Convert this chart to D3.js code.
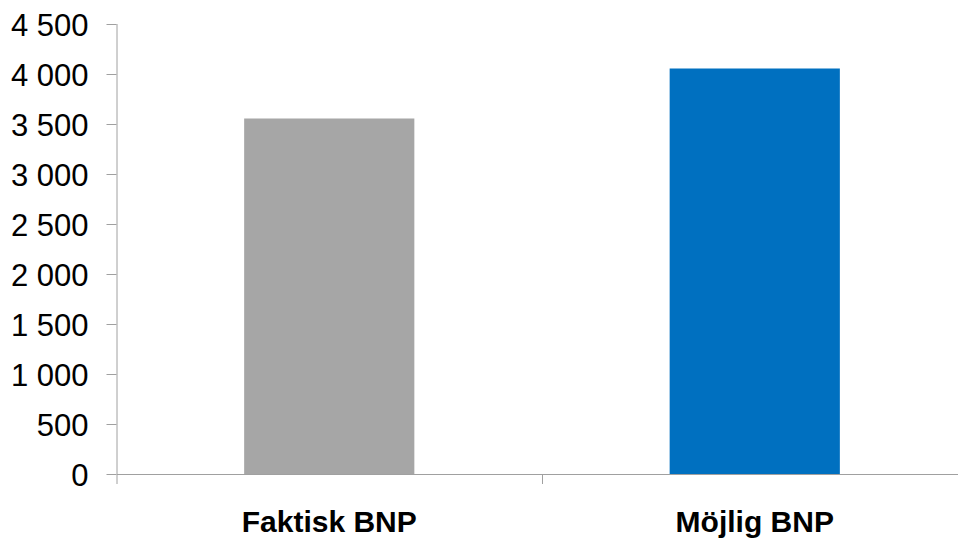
<!DOCTYPE html>
<html><head><meta charset="utf-8">
<script src="https://cdn.jsdelivr.net/npm/d3@7"></script>
<style>body{margin:0;background:#fff}svg{display:block}</style>
</head><body>
<script>
const categories = ["Faktisk BNP", "Möjlig BNP"];
const values = [3555, 4055];
const colors = ["#a6a6a6", "#0070c0"];
const yTicks = [0, 500, 1000, 1500, 2000, 2500, 3000, 3500, 4000, 4500];

const W = 958, H = 541;
const x0 = 116.5, x1 = 967.5, yTop = 24, yBot = 474;
const svg = d3.select("body").append("svg").attr("width", W).attr("height", H);

const y = d3.scaleLinear().domain([0, 4500]).range([yBot, yTop]);
const x = d3.scaleBand().domain(categories).range([x0, x1]).paddingInner(0.6).paddingOuter(0.3);
const xb = d3.scaleLinear().domain([0, categories.length]).range([x0, x1]);

const fmt = v => d3.format(",")(v).replace(/,/g, " ");

// bars
svg.selectAll("rect.bar").data(categories).join("rect")
  .attr("x", d => x(d)).attr("width", x.bandwidth())
  .attr("y", (d, i) => y(values[i])).attr("height", (d, i) => yBot - y(values[i]))
  .attr("fill", (d, i) => colors[i]);

// y axis
const ya = svg.append("g").attr("transform", `translate(${x0},0)`)
  .call(d3.axisLeft(y).tickValues(yTicks).tickFormat(fmt).tickSize(10).tickPadding(18).tickSizeOuter(0));
ya.select(".domain").attr("stroke", "#a0a0a0").attr("d", `M0.5,${yTop}V${yBot}`);
ya.selectAll(".tick line").attr("stroke", "#a0a0a0");
ya.selectAll(".tick text").attr("font-family", "Liberation Sans, Arial, sans-serif").attr("font-size", 31).attr("fill", "#000").attr("dy", "0.36em");

// x axis
const xa = svg.append("g").attr("transform", `translate(0,${yBot})`)
  .call(d3.axisBottom(xb).tickValues(d3.range(categories.length + 1)).tickFormat("").tickSize(10).tickSizeOuter(0));
xa.select(".domain").attr("stroke", "#a0a0a0");
xa.selectAll(".tick line").attr("stroke", "#a0a0a0");

// category labels
svg.selectAll("text.cat").data(categories).join("text").attr("class", "cat")
  .attr("x", d => x(d) + x.bandwidth() / 2).attr("y", 532)
  .attr("text-anchor", "middle")
  .attr("font-family", "Liberation Sans, Arial, sans-serif").attr("font-weight", "bold").attr("font-size", 30)
  .attr("fill", "#000").text(d => d);
</script>
</body></html>
